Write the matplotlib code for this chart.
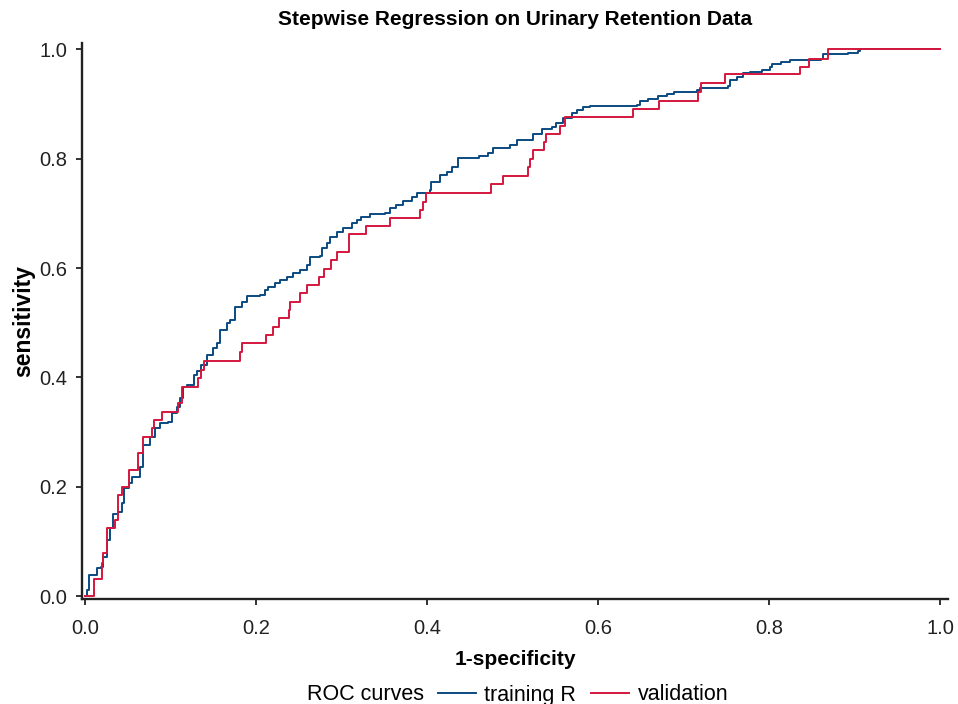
import matplotlib
matplotlib.use("Agg")
import matplotlib.pyplot as plt
from matplotlib.lines import Line2D

plt.rcParams["font.family"] = ["Liberation Sans", "DejaVu Sans"]

# ROC curve for the training data (step corners: at fpr the curve jumps to tpr)
train_fpr = [0.000, 0.002, 0.005, 0.014, 0.018, 0.021, 0.025, 0.029, 0.033, 0.039,
             0.043, 0.045, 0.051, 0.055, 0.064, 0.068, 0.076, 0.082, 0.088, 0.097,
             0.101, 0.107, 0.111, 0.115, 0.119, 0.127, 0.131, 0.136, 0.142, 0.150,
             0.154, 0.158, 0.166, 0.169, 0.175, 0.183, 0.189, 0.205, 0.210, 0.214,
             0.222, 0.228, 0.236, 0.243, 0.251, 0.259, 0.263, 0.275, 0.277, 0.283,
             0.286, 0.294, 0.302, 0.312, 0.318, 0.323, 0.333, 0.351, 0.357, 0.364,
             0.372, 0.382, 0.388, 0.403, 0.405, 0.415, 0.423, 0.429, 0.436, 0.460,
             0.471, 0.477, 0.497, 0.505, 0.524, 0.534, 0.546, 0.551, 0.559, 0.569,
             0.575, 0.582, 0.590, 0.645, 0.649, 0.658, 0.670, 0.680, 0.688, 0.715,
             0.719, 0.731, 0.752, 0.754, 0.762, 0.769, 0.777, 0.791, 0.801, 0.803,
             0.814, 0.824, 0.845, 0.861, 0.863, 0.892, 0.904, 0.906, 1.000]
train_tpr = [0.000, 0.011, 0.038, 0.051, 0.054, 0.072, 0.102, 0.124, 0.151, 0.154,
             0.170, 0.197, 0.206, 0.218, 0.237, 0.276, 0.291, 0.307, 0.316, 0.319,
             0.334, 0.346, 0.362, 0.383, 0.386, 0.404, 0.412, 0.423, 0.441, 0.453,
             0.462, 0.487, 0.499, 0.505, 0.529, 0.538, 0.549, 0.551, 0.560, 0.566,
             0.573, 0.578, 0.584, 0.590, 0.596, 0.605, 0.621, 0.622, 0.636, 0.645,
             0.657, 0.666, 0.673, 0.682, 0.688, 0.694, 0.699, 0.701, 0.709, 0.715,
             0.723, 0.730, 0.738, 0.743, 0.758, 0.770, 0.776, 0.785, 0.801, 0.804,
             0.810, 0.819, 0.825, 0.834, 0.846, 0.854, 0.858, 0.865, 0.874, 0.883,
             0.889, 0.894, 0.896, 0.898, 0.906, 0.910, 0.915, 0.918, 0.921, 0.926,
             0.929, 0.930, 0.933, 0.944, 0.950, 0.956, 0.959, 0.963, 0.968, 0.974,
             0.977, 0.980, 0.981, 0.983, 0.991, 0.994, 0.997, 1.000, 1.000]

# ROC curve for the validation data
valid_fpr = [0.000, 0.010, 0.020, 0.021, 0.025, 0.035, 0.039, 0.043, 0.051, 0.062,
             0.068, 0.078, 0.080, 0.090, 0.109, 0.113, 0.132, 0.136, 0.139, 0.181,
             0.183, 0.212, 0.220, 0.227, 0.238, 0.240, 0.251, 0.259, 0.274, 0.279,
             0.288, 0.295, 0.308, 0.329, 0.357, 0.392, 0.395, 0.399, 0.475, 0.489,
             0.518, 0.520, 0.524, 0.536, 0.539, 0.555, 0.561, 0.641, 0.671, 0.717,
             0.720, 0.748, 0.836, 0.847, 0.869, 1.000]
valid_tpr = [0.000, 0.031, 0.060, 0.079, 0.124, 0.139, 0.185, 0.200, 0.230, 0.262,
             0.291, 0.307, 0.322, 0.337, 0.353, 0.383, 0.399, 0.413, 0.430, 0.447,
             0.462, 0.477, 0.493, 0.508, 0.523, 0.538, 0.554, 0.569, 0.584, 0.599,
             0.615, 0.630, 0.662, 0.677, 0.691, 0.706, 0.721, 0.738, 0.753, 0.769,
             0.784, 0.799, 0.815, 0.830, 0.845, 0.860, 0.876, 0.891, 0.906, 0.922,
             0.938, 0.954, 0.968, 0.982, 1.000, 1.000]

BLUE = "#0b4a80"
RED = "#d4173f"

fig = plt.figure(figsize=(9.58, 7.04), dpi=100)
ax = fig.add_axes([0.0853, 0.149, 0.9043, 0.7903])

ax.plot(train_fpr, train_tpr, drawstyle="steps-post", color=BLUE, lw=1.4)
ax.plot(valid_fpr, valid_tpr, drawstyle="steps-post", color=RED, lw=1.4)

ax.set_xlim(-0.004, 1.009)
ax.set_ylim(-0.0055, 1.012)
ax.set_xticks([0.0, 0.2, 0.4, 0.6, 0.8, 1.0])
ax.set_yticks([0.0, 0.2, 0.4, 0.6, 0.8, 1.0])
ax.xaxis.set_major_formatter(matplotlib.ticker.FormatStrFormatter("%.1f"))
ax.yaxis.set_major_formatter(matplotlib.ticker.FormatStrFormatter("%.1f"))
for s in ("top", "right"):
    ax.spines[s].set_visible(False)
for s in ("left", "bottom"):
    ax.spines[s].set_linewidth(1.7)
    ax.spines[s].set_color("#222222")
ax.tick_params(direction="out", length=4.5, width=1.3, colors="#222222",
               labelsize=14.5)
ax.tick_params(axis="x", pad=10)
ax.tick_params(axis="y", pad=6)

ax.set_xlabel("1-specificity", fontsize=15, fontweight="bold", labelpad=8.5)
ax.set_ylabel("sensitivity", fontsize=16.5, fontweight="bold", labelpad=3)
ax.set_title("Stepwise Regression on Urinary Retention Data",
             fontsize=15, fontweight="bold", pad=13)

# legend row at the bottom
fig.text(307 / 958, 1 - 695 / 704, "ROC curves", fontsize=15.5, va="center", ha="left")
handles = [Line2D([], [], color=BLUE, lw=1.4), Line2D([], [], color=RED, lw=1.4)]
fig.legend(handles, ["training R", "validation"], loc="center left",
           bbox_to_anchor=(438 / 958, 1 - 695 / 704), ncol=2, frameon=False,
           fontsize=15.5, handlelength=1.75, handletextpad=0.4, columnspacing=0.7,
           borderpad=0, borderaxespad=0)

fig.savefig("out.png", dpi=100)
